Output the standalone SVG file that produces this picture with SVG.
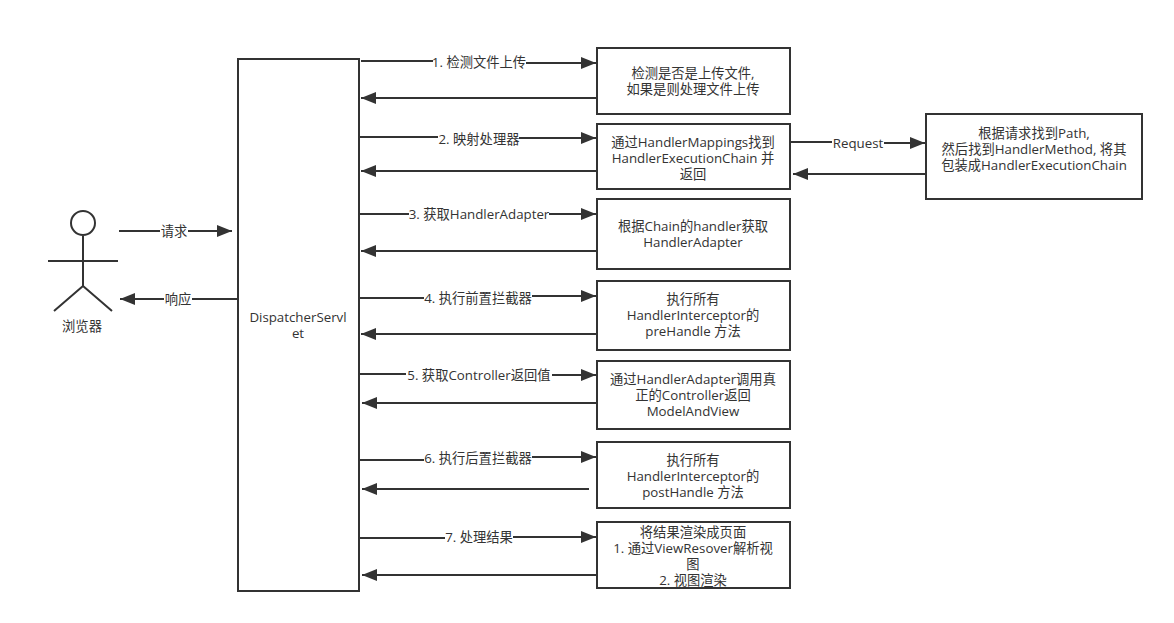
<svg xmlns="http://www.w3.org/2000/svg" width="1174" height="623" viewBox="0 0 1174 623">
<style>
.n{fill:#fff;stroke:#333;stroke-width:2}
.a{fill:none;stroke:#333;stroke-width:2}
.b{fill:#fff}
text{font-family:"Open Sans","Noto Sans CJK SC",sans-serif;font-size:13.3px;fill:#333;text-anchor:middle}
</style>
<defs><marker id="h" markerUnits="userSpaceOnUse" markerWidth="16" markerHeight="12" refX="15" refY="6" orient="auto"><path d="M0 0L15 6L0 12z" fill="#333"/></marker></defs>
<rect width="1174" height="623" fill="#fff"/>
<g id="connectors">
<path class="a" marker-end="url(#h)" d="M119 231H232"/>
<path class="a" marker-end="url(#h)" d="M237 299H120"/>
<path class="a" marker-end="url(#h)" d="M361 61H480V63H596"/>
<path class="a" marker-end="url(#h)" d="M597 98H361"/>
<path class="a" marker-end="url(#h)" d="M359 137H480V138H596"/>
<path class="a" marker-end="url(#h)" d="M597 171H361"/>
<path class="a" marker-end="url(#h)" d="M360 214H596"/>
<path class="a" marker-end="url(#h)" d="M597 251H361"/>
<path class="a" marker-end="url(#h)" d="M360 298H480V296H596"/>
<path class="a" marker-end="url(#h)" d="M597 334H361"/>
<path class="a" marker-end="url(#h)" d="M360 374H480V375H596"/>
<path class="a" marker-end="url(#h)" d="M597 403H362"/>
<path class="a" marker-end="url(#h)" d="M360 460H480V457H596"/>
<path class="a" marker-end="url(#h)" d="M589 489H362"/>
<path class="a" marker-end="url(#h)" d="M360 538H480V537H596"/>
<path class="a" marker-end="url(#h)" d="M597 575H362"/>
<path class="a" marker-end="url(#h)" d="M790 142H860V143H925"/>
<path class="a" marker-end="url(#h)" d="M926 174H793"/>
<rect class="b" x="160" y="222" width="28" height="18"/><text x="174" y="236">请求</text>
<rect class="b" x="164" y="290" width="28" height="18"/><text x="178" y="304">响应</text>
<rect class="b" x="433" y="53" width="93" height="18"/><text x="479" y="67">1. 检测文件上传</text>
<rect class="b" x="438" y="130" width="81" height="18"/><text x="479" y="144">2. 映射处理器</text>
<rect class="b" x="409" y="205" width="140" height="18"/><text x="479" y="219">3. 获取HandlerAdapter</text>
<rect class="b" x="424" y="289" width="108" height="18"/><text x="478" y="303">4. 执行前置拦截器</text>
<rect class="b" x="406" y="366" width="146" height="18"/><text x="479" y="380">5. 获取Controller返回值</text>
<rect class="b" x="424" y="449" width="108" height="18"/><text x="478" y="463">6. 执行后置拦截器</text>
<rect class="b" x="445" y="528" width="68" height="18"/><text x="479" y="542">7. 处理结果</text>
<rect class="b" x="832" y="134" width="52" height="18"/><text x="858" y="148">Request</text>
</g>
<g id="browser">
<circle class="a" cx="83" cy="223" r="12"/>
<path class="a" d="M83 236V286M48 261H118M83 286L54 311M83 286L112 311"/>
<text x="82" y="331">浏览器</text>
</g>
<g id="dispatcher"><rect class="n" x="238" y="59" width="121" height="532"/><text x="298" y="322">DispatcherServl</text><text x="298" y="338">et</text></g>
<g id="n1"><rect class="n" x="597" y="48" width="193" height="66"/><text x="693" y="78">检测是否是上传文件,</text><text x="693" y="94">如果是则处理文件上传</text></g>
<g id="n2"><rect class="n" x="597" y="124" width="193" height="65"/><text x="693" y="147">通过HandlerMappings找到</text><text x="693" y="163">HandlerExecutionChain 并</text><text x="693" y="179">返回</text></g>
<g id="n3"><rect class="n" x="597" y="199" width="193" height="70"/><text x="693" y="231">根据Chain的handler获取</text><text x="693" y="247">HandlerAdapter</text></g>
<g id="n4"><rect class="n" x="597" y="281" width="193" height="69"/><text x="693" y="304">执行所有</text><text x="693" y="320">HandlerInterceptor的</text><text x="693" y="336">preHandle 方法</text></g>
<g id="n5"><rect class="n" x="597" y="361" width="193" height="68"/><text x="693" y="384">通过HandlerAdapter调用真</text><text x="693" y="400">正的Controller返回</text><text x="693" y="416">ModelAndView</text></g>
<g id="n6"><rect class="n" x="597" y="442" width="193" height="66"/><text x="693" y="465">执行所有</text><text x="693" y="481">HandlerInterceptor的</text><text x="693" y="497">postHandle 方法</text></g>
<g id="n7"><rect class="n" x="597" y="522" width="193" height="66"/><text x="693" y="537">将结果渲染成页面</text><text x="693" y="553">1. 通过ViewResover解析视</text><text x="693" y="569">图</text><text x="693" y="585">2. 视图渲染</text></g>
<g id="n8"><rect class="n" x="926" y="114" width="216" height="85"/><text x="1034" y="138">根据请求找到Path,</text><text x="1034" y="154">然后找到HandlerMethod, 将其</text><text x="1034" y="170">包装成HandlerExecutionChain</text></g>
</svg>
